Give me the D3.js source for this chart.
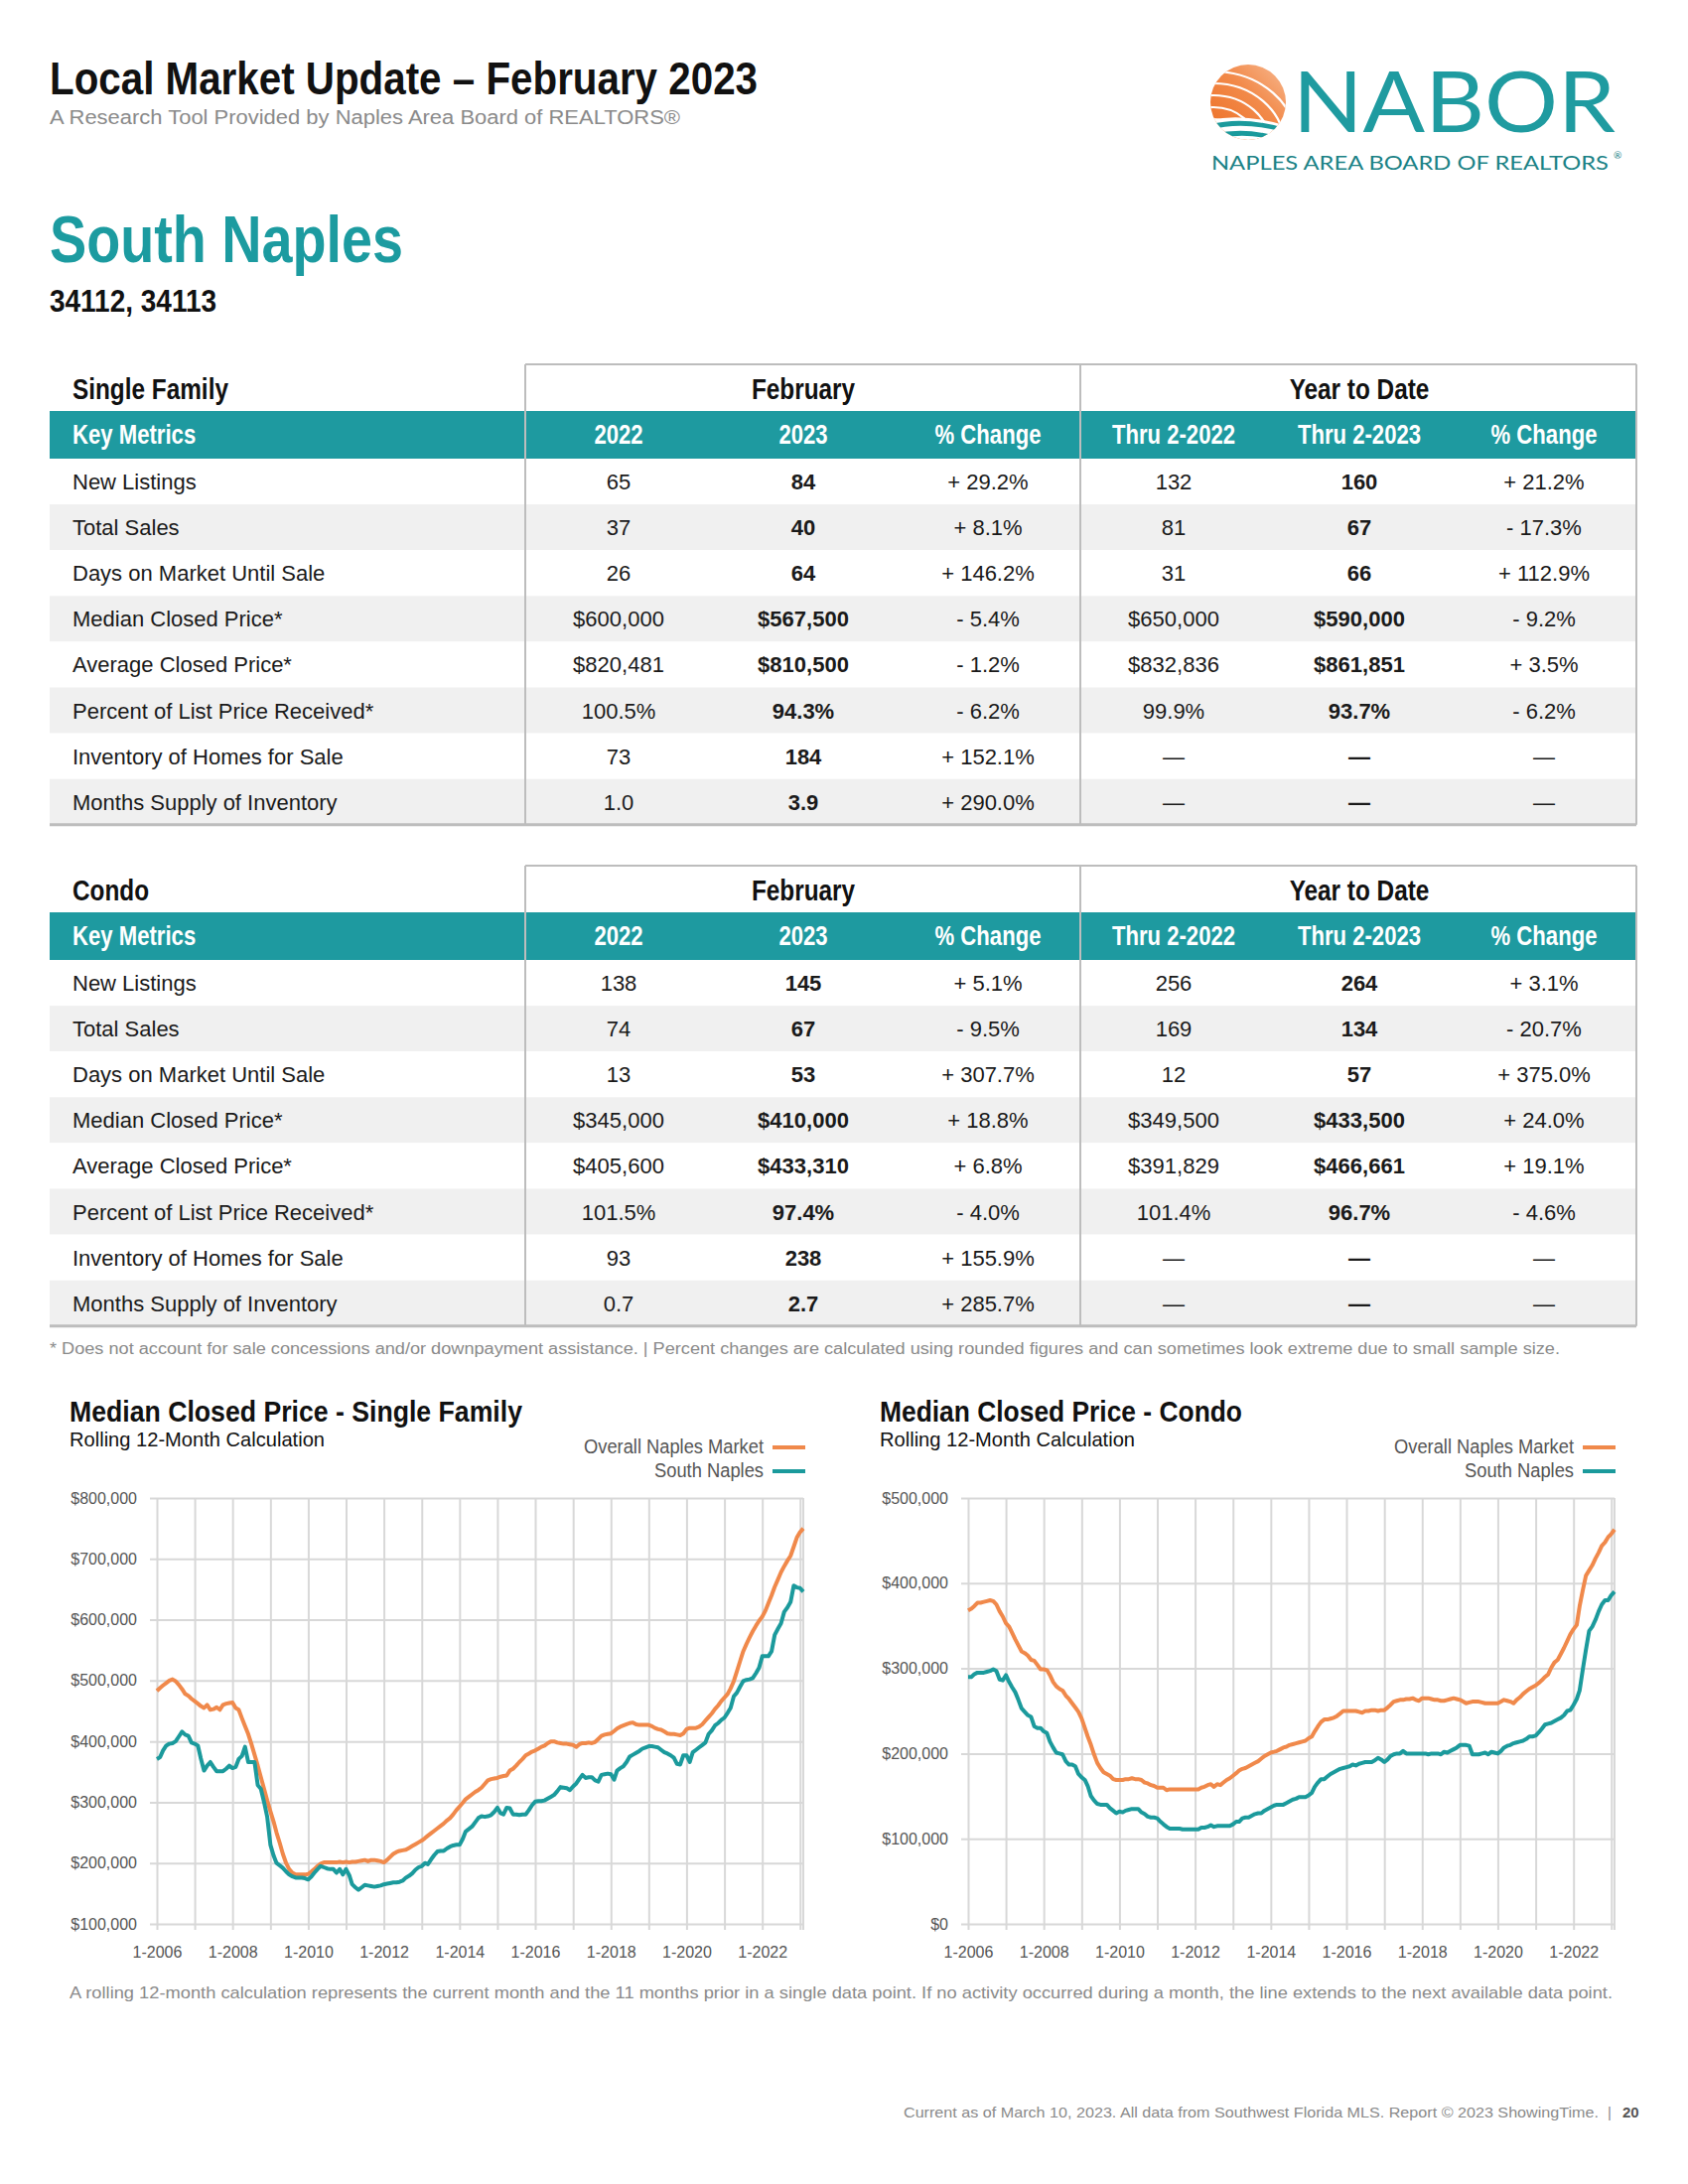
<!DOCTYPE html>
<html><head><meta charset="utf-8">
<script src="https://cdn.jsdelivr.net/npm/d3@7"></script>
<style>html,body{margin:0;padding:0;background:#fff;} svg{display:block;}</style>
</head><body>
<div id="page"></div>
<script>
// ---------- DATA ----------
const tableCols = ["2022", "2023", "% Change", "Thru 2-2022", "Thru 2-2023", "% Change"];
const metrics = ["New Listings", "Total Sales", "Days on Market Until Sale", "Median Closed Price*",
  "Average Closed Price*", "Percent of List Price Received*", "Inventory of Homes for Sale", "Months Supply of Inventory"];
const sfRows = [
  ["65", "84", "+ 29.2%", "132", "160", "+ 21.2%"],
  ["37", "40", "+ 8.1%", "81", "67", "- 17.3%"],
  ["26", "64", "+ 146.2%", "31", "66", "+ 112.9%"],
  ["$600,000", "$567,500", "- 5.4%", "$650,000", "$590,000", "- 9.2%"],
  ["$820,481", "$810,500", "- 1.2%", "$832,836", "$861,851", "+ 3.5%"],
  ["100.5%", "94.3%", "- 6.2%", "99.9%", "93.7%", "- 6.2%"],
  ["73", "184", "+ 152.1%", "—", "—", "—"],
  ["1.0", "3.9", "+ 290.0%", "—", "—", "—"]
];
const condoRows = [
  ["138", "145", "+ 5.1%", "256", "264", "+ 3.1%"],
  ["74", "67", "- 9.5%", "169", "134", "- 20.7%"],
  ["13", "53", "+ 307.7%", "12", "57", "+ 375.0%"],
  ["$345,000", "$410,000", "+ 18.8%", "$349,500", "$433,500", "+ 24.0%"],
  ["$405,600", "$433,310", "+ 6.8%", "$391,829", "$466,661", "+ 19.1%"],
  ["101.5%", "97.4%", "- 4.0%", "101.4%", "96.7%", "- 4.6%"],
  ["93", "238", "+ 155.9%", "—", "—", "—"],
  ["0.7", "2.7", "+ 285.7%", "—", "—", "—"]
];

// Monthly rolling 12-month medians, in $ thousands, Jan 2006 .. Feb 2023
const seriesStart = "2006-01";
const sfOverall = [
  483,488,492,496,500,502,499,493,486,478,475,470,
  466,462,458,455,460,452,453,456,452,460,462,463,
  464,455,452,438,425,412,396,378,360,341,322,303,
  285,268,250,233,215,200,190,184,181,181,181,181,
  182,186,190,195,199,201,201,201,201,201,202,201,
  202,201,202,202,203,204,205,203,205,205,204,203,
  201,205,210,215,218,220,221,222,225,228,231,234,
  237,241,245,249,253,257,261,265,270,274,280,287,
  293,299,305,309,313,317,320,324,330,336,338,339,
  340,342,343,344,352,355,360,366,371,377,380,383,
  385,388,391,393,397,400,400,398,397,396,396,395,
  394,391,395,397,397,398,397,399,404,409,411,412,
  413,417,421,424,426,428,430,431,428,427,427,427,
  427,425,422,420,419,416,413,412,412,411,410,413,
  420,422,422,422,424,428,434,440,446,453,459,466,
  472,478,487,499,515,532,548,560,571,581,590,598,
  605,615,627,640,654,666,678,688,697,705,720,735,
  744,750];
const sfSouth = [
  371,374,385,393,396,397,400,408,416,411,409,398,
  396,393,372,352,360,366,358,351,351,351,355,360,
  356,358,371,376,391,366,366,366,328,322,300,276,
  230,212,200,196,192,186,181,178,176,176,176,175,
  173,178,184,190,195,193,191,190,190,184,190,181,
  190,180,165,160,156,160,164,163,162,161,162,163,
  165,166,167,168,168,169,171,176,179,183,189,193,
  195,200,198,206,213,219,220,220,224,227,229,230,
  230,240,252,256,260,267,274,277,276,277,279,284,
  291,282,280,291,290,280,280,279,280,280,287,295,
  301,302,302,303,306,309,312,318,325,324,323,320,
  326,331,338,345,340,341,341,336,334,345,346,347,
  346,337,352,356,359,366,375,378,381,384,388,390,
  392,392,391,390,386,382,380,377,373,363,362,377,
  377,366,382,386,390,394,398,412,418,426,430,435,
  439,447,455,474,480,490,499,501,502,504,512,521,
  540,540,540,548,575,585,594,613,620,629,656,653,
  652,646];
const condoOverall = [
  368,370,373,377,377,378,379,380,379,375,367,361,
  353,349,342,334,327,320,318,315,310,309,304,299,
  299,298,292,284,279,276,274,268,264,259,254,249,
  241,230,220,210,199,189,183,178,176,174,170,169,
  169,169,170,170,171,170,170,169,166,165,163,162,
  160,160,160,157,158,158,158,158,158,158,158,158,
  158,158,160,161,163,164,161,164,163,166,169,171,
  174,177,180,182,183,185,187,189,191,194,197,199,
  201,202,203,205,207,208,210,211,212,213,214,215,
  218,220,226,232,237,240,240,241,242,244,247,250,
  250,250,250,250,249,248,250,250,251,251,250,251,
  251,254,257,261,262,263,263,264,264,265,263,262,
  265,265,265,264,263,263,262,262,263,264,265,264,
  263,261,259,260,261,261,261,260,259,259,259,259,
  259,261,263,262,261,259,263,266,270,273,276,278,
  280,283,286,290,293,301,307,310,317,324,332,340,
  346,351,373,392,409,415,421,429,436,444,448,454,
  458,463];
const condoSouth = [
  290,290,293,295,295,295,296,297,299,297,287,286,
  292,284,278,272,263,253,249,245,243,232,230,230,
  226,224,214,207,201,200,199,191,187,187,185,176,
  172,169,162,150,145,141,140,140,140,136,133,130,
  132,131,133,134,135,135,135,131,129,126,125,125,
  124,120,117,114,112,112,112,112,111,111,111,111,
  111,111,113,113,114,116,114,115,115,115,115,115,
  117,120,120,124,125,125,127,129,130,130,133,135,
  137,139,140,140,140,142,144,146,147,149,149,149,
  151,154,161,166,170,170,173,176,178,180,182,183,
  184,185,187,186,188,189,190,190,190,192,195,193,
  190,193,197,199,200,200,203,200,200,200,200,200,
  200,200,199,200,200,200,199,202,201,203,205,207,
  210,210,210,209,199,199,199,200,201,199,202,201,
  200,203,207,209,210,212,213,214,215,217,220,220,
  221,225,229,234,235,236,238,240,242,245,250,251,
  257,264,274,299,322,344,349,357,367,375,380,380,
  386,390];
const sfTicks = [100000, 200000, 300000, 400000, 500000, 600000, 700000, 800000];
const condoTicks = [0, 100000, 200000, 300000, 400000, 500000];
const seriesNames = ["Overall Naples Market", "South Naples"];

// ---------- STYLE ----------
const ORANGE = "#f0894b", TEAL = "#1b9a9c", HEAD_TEAL = "#1e9aa0";
const SANS = "'Liberation Sans', Arial, Helvetica, sans-serif";
const GRID = "#d8d8d8";

const svg = d3.select("#page").append("svg").attr("width", 1700).attr("height", 2200)
  .attr("viewBox", "0 0 1700 2200");
svg.append("rect").attr("width", 1700).attr("height", 2200).attr("fill", "#fff");

function txt(parent, x, y, s, o = {}) {
  const t = parent.append("text").attr("x", x).attr("y", y).text(s)
    .attr("font-family", o.family || SANS)
    .attr("font-size", o.size || 20)
    .attr("font-weight", o.weight || 400)
    .attr("fill", o.fill || "#111")
    .attr("text-anchor", o.anchor || "start");
  if (o.len) t.attr("textLength", o.len).attr("lengthAdjust", "spacingAndGlyphs");
  return t;
}
function ctext(parent, x, y, s, o = {}) {
  const sx = o.sx || 0.86;
  const g = parent.append("g").attr("transform", `translate(${x},${y}) scale(${sx},1)`);
  return txt(g, 0, 0, s, o);
}

// ---------- HEADER ----------
txt(svg, 50, 95, "Local Market Update – February 2023", {size: 47, weight: 700, len: 713});
txt(svg, 50, 125, "A Research Tool Provided by Naples Area Board of REALTORS®", {size: 20, fill: "#8a8a8a", len: 635});
txt(svg, 50, 264, "South Naples", {size: 67, weight: 700, fill: "#1c9ba0", len: 356});
txt(svg, 50, 314, "34112, 34113", {size: 32, weight: 700, len: 168});

// Logo
const logo = svg.append("g");
const defs = svg.append("defs");
const lg = defs.append("linearGradient").attr("id", "shellGrad").attr("x1", "0").attr("y1", "1").attr("x2", "1").attr("y2", "0");
lg.append("stop").attr("offset", "0").attr("stop-color", "#ec6a1f");
lg.append("stop").attr("offset", "0.55").attr("stop-color", "#f28a4a");
lg.append("stop").attr("offset", "1").attr("stop-color", "#f8c3a0");
defs.append("clipPath").attr("id", "shellClip").append("circle").attr("cx", 1257).attr("cy", 103).attr("r", 38);
const shell = logo.append("g").attr("clip-path", "url(#shellClip)");
shell.append("rect").attr("x", 1215).attr("y", 60).attr("width", 90).attr("height", 90).attr("fill", "url(#shellGrad)");
[26, 38, 50, 62, 74].forEach(r => {
  shell.append("ellipse").attr("cx", 1222).attr("cy", 146).attr("rx", r * 1.15).attr("ry", r)
    .attr("fill", "none").attr("stroke", "#fff").attr("stroke-width", 2.2);
});
shell.append("path").attr("d", "M1215,122 Q1250,112 1300,128 L1300,150 L1215,150 Z").attr("fill", "#fff");
shell.append("path").attr("d", "M1217,126 Q1252,116 1297,130 L1297,134 Q1252,121 1217,131 Z").attr("fill", TEAL);
shell.append("path").attr("d", "M1222,135 Q1255,127 1292,139 L1290,143 Q1255,132 1224,140 Z").attr("fill", TEAL);
txt(logo, 1302, 133, "NABOR", {size: 86, family: "Lato, 'Open Sans', sans-serif", fill: "#1f9ba0", len: 325});
txt(logo, 1220, 171, "NAPLES AREA BOARD OF REALTORS", {size: 19, family: "Lato, 'Open Sans', sans-serif", fill: "#1b8286", len: 400});
txt(logo, 1625, 160, "®", {size: 10, family: "Lato, sans-serif", fill: "#1b8286"});

// ---------- TABLES ----------
const colCenters = [623, 809, 995, 1182, 1369, 1555];
function drawTable(top, title, rows) {
  const g = svg.append("g");
  const L = 50, R = 1648, tealTop = top + 47, tealBot = top + 95, rowH = 46.1;
  const bottom = tealBot + rowH * rows.length;
  rows.forEach((r, i) => {
    g.append("rect").attr("x", L).attr("y", tealBot + i * rowH).attr("width", R - L).attr("height", rowH)
      .attr("fill", i % 2 ? "#f0f0f0" : "#fff");
  });
  g.append("rect").attr("x", L).attr("y", tealTop).attr("width", R - L).attr("height", tealBot - tealTop).attr("fill", HEAD_TEAL);
  const bc = "#bdbdbd";
  g.append("line").attr("x1", 529).attr("x2", R).attr("y1", top).attr("y2", top).attr("stroke", bc).attr("stroke-width", 2);
  [529, 1088, R].forEach(x => g.append("line").attr("x1", x).attr("x2", x).attr("y1", top).attr("y2", bottom)
    .attr("stroke", bc).attr("stroke-width", 2));
  g.append("line").attr("x1", L).attr("x2", R).attr("y1", bottom).attr("y2", bottom).attr("stroke", bc).attr("stroke-width", 3);
  ctext(g, 73, top + 35, title, {size: 29, weight: 700, sx: 0.84});
  ctext(g, 809, top + 35, "February", {size: 29, weight: 700, anchor: "middle", sx: 0.84});
  ctext(g, 1369, top + 35, "Year to Date", {size: 29, weight: 700, anchor: "middle", sx: 0.84});
  ctext(g, 73, top + 80, "Key Metrics", {size: 27, weight: 700, fill: "#fff", sx: 0.82});
  tableCols.forEach((c, j) => ctext(g, colCenters[j], top + 80, c, {size: 27, weight: 700, fill: "#fff", anchor: "middle", sx: 0.82}));
  rows.forEach((r, i) => {
    const y = tealBot + i * rowH + 31;
    txt(g, 73, y, metrics[i], {size: 22, fill: "#1a1a1a"});
    r.forEach((v, j) => {
      const bold = (j === 1 || j === 4);
      txt(g, colCenters[j], y, v, {size: 22, anchor: "middle", weight: bold ? 700 : 400, fill: "#1a1a1a"});
    });
  });
}
drawTable(367, "Single Family", sfRows);
drawTable(872, "Condo", condoRows);

txt(svg, 50, 1364, "* Does not account for sale concessions and/or downpayment assistance. | Percent changes are calculated using rounded figures and can sometimes look extreme due to small sample size.",
  {size: 16, fill: "#8a8a8a", len: 1521});

// ---------- CHARTS ----------
const t0 = d3.timeParse("%Y-%m")(seriesStart);
function drawChart(cfg) {
  const g = svg.append("g");
  const {left, right, top, bottom} = cfg;
  const n = cfg.overall.length;
  const dates = d3.range(n).map(i => d3.timeMonth.offset(t0, i));
  const x = d3.scaleTime().domain([dates[0], dates[n - 1]]).range([left, right]);
  const y = d3.scaleLinear().domain([cfg.ticks[0], cfg.ticks[cfg.ticks.length - 1]]).range([bottom, top]);

  txt(g, cfg.titleX, 1432, cfg.title, {size: 30, weight: 700, len: cfg.titleLen});
  txt(g, cfg.titleX, 1457, "Rolling 12-Month Calculation", {size: 21, len: 257});
  seriesNames.forEach((nm, i) => {
    const ly = 1464 + i * 24;
    txt(g, cfg.legendEnd, ly, nm, {size: 20, fill: "#555", anchor: "end", len: i ? 110 : 181});
    g.append("line").attr("x1", cfg.legendEnd + 9).attr("x2", cfg.legendEnd + 42)
      .attr("y1", ly - 6).attr("y2", ly - 6).attr("stroke", i ? TEAL : ORANGE).attr("stroke-width", 4);
  });

  const yAxis = d3.axisLeft(y).tickValues(cfg.ticks).tickSize(-(right - left)).tickSizeOuter(0)
    .tickPadding(20).tickFormat(d => "$" + d3.format(",")(d));
  const ya = g.append("g").attr("transform", `translate(${left},0)`).call(yAxis);
  ya.select(".domain").remove();
  ya.selectAll(".tick line").attr("stroke", GRID).attr("stroke-width", 2).attr("x1", -7);
  ya.selectAll(".tick text").attr("font-family", SANS).attr("font-size", 16).attr("fill", "#555");

  const xAxis = d3.axisBottom(x).ticks(d3.timeYear.every(1)).tickSize(-(bottom - top)).tickSizeOuter(0)
    .tickFormat(d => d.getFullYear() % 2 === 0 && d.getFullYear() <= 2022 ? "1-" + d.getFullYear() : "");
  const xa = g.append("g").attr("transform", `translate(0,${bottom})`).call(xAxis);
  xa.select(".domain").remove();
  xa.selectAll(".tick line").attr("stroke", GRID).attr("stroke-width", 2).attr("y1", 6);
  xa.selectAll(".tick text").attr("font-family", SANS).attr("font-size", 16).attr("fill", "#555")
    .attr("y", 34).attr("dy", 0);
  g.append("line").attr("x1", right).attr("x2", right).attr("y1", top).attr("y2", bottom + 6)
    .attr("stroke", GRID).attr("stroke-width", 2);

  const line = d3.line().x((d, i) => x(dates[i])).y(d => y(d * 1000)).curve(d3.curveLinear);
  g.append("path").datum(cfg.overall).attr("d", line).attr("fill", "none").attr("stroke", ORANGE)
    .attr("stroke-width", 4).attr("stroke-linejoin", "round");
  g.append("path").datum(cfg.south).attr("d", line).attr("fill", "none").attr("stroke", TEAL)
    .attr("stroke-width", 4).attr("stroke-linejoin", "round");
}
drawChart({left: 158, right: 809, top: 1509, bottom: 1938, ticks: sfTicks, overall: sfOverall, south: sfSouth,
  title: "Median Closed Price - Single Family", titleX: 70, titleLen: 456, legendEnd: 769});
drawChart({left: 975, right: 1626, top: 1509, bottom: 1938, ticks: condoTicks, overall: condoOverall, south: condoSouth,
  title: "Median Closed Price - Condo", titleX: 886, titleLen: 365, legendEnd: 1585});

txt(svg, 70, 2013, "A rolling 12-month calculation represents the current month and the 11 months prior in a single data point. If no activity occurred during a month, the line extends to the next available data point.",
  {size: 17, fill: "#8a8a8a", len: 1554});
txt(svg, 1610, 2133, "Current as of March 10, 2023. All data from Southwest Florida MLS. Report © 2023 ShowingTime.",
  {size: 15, fill: "#8a8a8a", anchor: "end", len: 700});
txt(svg, 1621, 2133, "|", {size: 15, fill: "#8a8a8a", anchor: "middle"});
txt(svg, 1634, 2133, "20", {size: 15, weight: 700, fill: "#555"});
</script>
</body></html>
